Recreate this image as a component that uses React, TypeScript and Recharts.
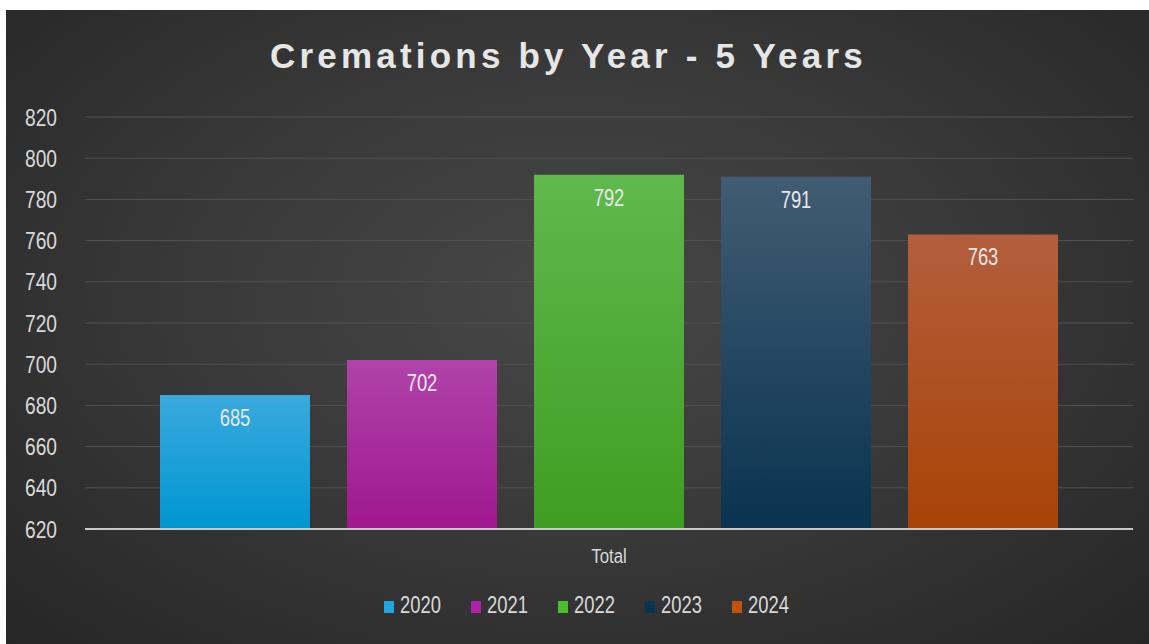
import React from "react";
import {
  BarChart,
  Bar,
  XAxis,
  YAxis,
  CartesianGrid,
  Legend,
  LabelList,
} from "recharts";

const categories = ["Total"];
const years = ["2020", "2021", "2022", "2023", "2024"];
const totals = [685, 702, 792, 791, 763];
const yTicks = [620, 640, 660, 680, 700, 720, 740, 760, 780, 800, 820];

const topColors = ["#3aa9de", "#b043a9", "#5fb94c", "#415c73", "#b35e3d"];
const bottomColors = ["#0096d1", "#a0178f", "#3f9d22", "#093350", "#a84306"];
const swatch = ["#1ea6e0", "#b020a8", "#4cbc30", "#0a3552", "#c0540f"];

const data = categories.map((name) => {
  const row: Record<string, string | number> = { name };
  years.forEach((y, i) => {
    row[y] = totals[i];
  });
  return row;
});

// no narrow font installed, so squeeze Liberation Sans horizontally
const font = "'Liberation Sans', Arial, sans-serif";
const squeeze = 0.8;

const YTick = (props: any) => {
  const { x, y, payload } = props;
  return (
    <g transform={`translate(${x},${y})`}>
      <text
        textAnchor="end"
        dy="0.36em"
        transform={`scale(${squeeze},1)`}
        fill="#d9d9d9"
        fontFamily={font}
        fontSize={24}
      >
        {payload.value}
      </text>
    </g>
  );
};

const XTick = (props: any) => {
  const { x, y, payload } = props;
  return (
    <g transform={`translate(${x},${y})`}>
      <text
        textAnchor="middle"
        dy={34}
        transform={`scale(${squeeze},1)`}
        fill="#d9d9d9"
        fontFamily={font}
        fontSize={21}
      >
        {payload.value}
      </text>
    </g>
  );
};

const BarValue = (props: any) => {
  const { x, y, width, value } = props;
  return (
    <g transform={`translate(${Number(x) + Number(width) / 2},${Number(y) + 31})`}>
      <text
        textAnchor="middle"
        transform={`scale(${squeeze},1)`}
        fill="#e8e8e8"
        fontFamily={font}
        fontSize={23}
      >
        {value}
      </text>
    </g>
  );
};

const renderLegend = () => (
  <div
    style={{
      display: "flex",
      justifyContent: "center",
      alignItems: "flex-end",
      fontFamily: font,
      fontSize: 23,
      color: "#d9d9d9",
      paddingLeft: 20,
    }}
  >
    {years.map((y, i) => (
      <div
        key={y}
        style={{
          display: "flex",
          alignItems: "baseline",
          width: i < years.length - 1 ? 87 : 60,
          flexShrink: 0,
          whiteSpace: "nowrap",
        }}
      >
        <span
          style={{
            display: "inline-block",
            width: 10,
            height: 12,
            flexShrink: 0,
            background: swatch[i],
            marginRight: 6,
          }}
        />
        <span
          style={{
            display: "inline-block",
            transform: `scaleX(${squeeze})`,
            transformOrigin: "left",
          }}
        >
          {y}
        </span>
      </div>
    ))}
  </div>
);

export default function App() {
  return (
    <div
      style={{
        position: "absolute",
        left: 6,
        top: 10,
        width: 1143,
        height: 634,
        background:
          "radial-gradient(ellipse at 50% 45%, #474747 0%, #3a3a3a 45%, #262626 100%)",
      }}
    >
      <div
        style={{
          position: "absolute",
          top: 26,
          left: 0,
          width: 1125,
          textAlign: "center",
          fontFamily: font,
          fontWeight: "bold",
          fontSize: 35,
          letterSpacing: 4.2,
          color: "#e6e6e6",
        }}
      >
        Cremations by Year - 5 Years
      </div>
      <BarChart
        width={1143}
        height={634}
        data={data}
        margin={{ top: 107, right: 16, left: 0, bottom: 75 }}
        barCategoryGap={75}
        barGap={37}
        style={{ position: "absolute", left: 0, top: 0 }}
      >
        <defs>
          {years.map((y, i) => (
            <linearGradient key={y} id={`g${y}`} x1="0" y1="0" x2="0" y2="1">
              <stop offset="0%" stopColor={topColors[i]} />
              <stop offset="100%" stopColor={bottomColors[i]} />
            </linearGradient>
          ))}
        </defs>
        <CartesianGrid vertical={false} stroke="#525252" strokeWidth={1} />
        <XAxis
          dataKey="name"
          axisLine={{ stroke: "#c8c8c8", strokeWidth: 2 }}
          tickLine={false}
          tickSize={0}
          tickMargin={0}
          height={40}
          tick={XTick}
        />
        <YAxis
          domain={[620, 820]}
          ticks={yTicks}
          interval={0}
          axisLine={false}
          tickLine={false}
          tickSize={0}
          tickMargin={28}
          width={79}
          tick={YTick}
        />
        <Legend
          layout="horizontal"
          verticalAlign="middle"
          content={renderLegend}
          wrapperStyle={{ top: 582, left: 0, width: 1143 }}
        />
        {years.map((y) => (
          <Bar
            key={y}
            dataKey={y}
            fill={`url(#g${y})`}
            isAnimationActive={false}
          >
            <LabelList dataKey={y} content={BarValue} />
          </Bar>
        ))}
      </BarChart>
    </div>
  );
}
